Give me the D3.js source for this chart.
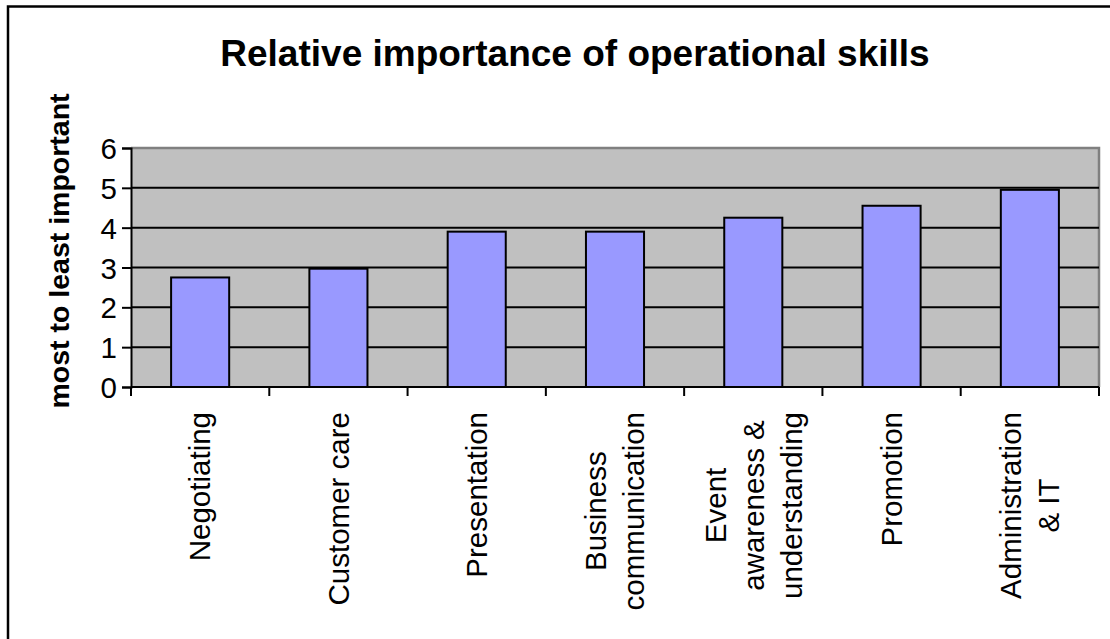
<!DOCTYPE html>
<html><head><meta charset="utf-8">
<script src="https://cdn.jsdelivr.net/npm/d3@7"></script>
<style>body{margin:0;background:#fff}svg{display:block}text{font-family:"Liberation Sans",Arial,sans-serif}</style>
</head><body><svg id="c" width="1110" height="639"></svg>
<script>
const categories = [["Negotiating"],["Customer care"],["Presentation"],["Business","communication"],["Event","awareness &","understanding"],["Promotion"],["Administration","& IT"]];
const values = [2.75, 2.97, 3.9, 3.9, 4.25, 4.55, 4.95];
const yTicks = [0,1,2,3,4,5,6];
const titleText = "Relative importance of operational skills";
const yLabel = "most to least important";

const svg = d3.select("#c");
const L = 131, R = 1099, T = 148, B = 387;
const keys = categories.map((c,i)=>i);
const x = d3.scaleBand().domain(keys).range([L,R]);
const y = d3.scaleLinear().domain([0,6]).range([B,T]);

// outer border
svg.append("rect").attr("x",8).attr("y",6.5).attr("width",1200).attr("height",700)
  .attr("fill","none").attr("stroke","#000").attr("stroke-width",2.5);

// plot area
svg.append("rect").attr("x",L).attr("y",T).attr("width",R-L).attr("height",B-T).attr("fill","#C0C0C0");
svg.append("path").attr("d",`M${L},${T}H${R}V${B}`).attr("fill","none").attr("stroke","#808080").attr("stroke-width",2.5);

// gridlines
svg.append("g").selectAll("line").data(yTicks.filter(d=>d>0&&d<6)).join("line")
  .attr("x1",L).attr("x2",R).attr("y1",d=>y(d)).attr("y2",d=>y(d)).attr("stroke","#000").attr("stroke-width",2);

// bars
const bw = x.bandwidth()*0.42;
svg.append("g").selectAll("rect").data(values).join("rect")
  .attr("x",(d,i)=>x(i)+x.bandwidth()/2-bw/2).attr("width",bw)
  .attr("y",d=>y(d)).attr("height",d=>B-y(d))
  .attr("fill","#9999FF").attr("stroke","#000").attr("stroke-width",2);

// y axis
const ya = svg.append("g").attr("transform",`translate(${L},0)`)
  .call(d3.axisLeft(y).tickValues(yTicks).tickFormat(d3.format("d")).tickSize(9).tickPadding(5));
ya.select(".domain").attr("stroke","#000").attr("stroke-width",2);
ya.selectAll(".tick line").attr("stroke","#000").attr("stroke-width",2);
ya.selectAll(".tick text").attr("font-size",29.5).attr("fill","#000").attr("font-family","Liberation Sans, Arial, sans-serif").attr("dy","0.36em");

// x axis
const tickPos = d3.range(categories.length+1).map(i=>L+i*x.step());
svg.append("line").attr("x1",L).attr("x2",R).attr("y1",B).attr("y2",B).attr("stroke","#000").attr("stroke-width",2);
svg.append("g").selectAll("line").data(tickPos).join("line")
  .attr("x1",d=>d).attr("x2",d=>d).attr("y1",B).attr("y2",B+9).attr("stroke","#000").attr("stroke-width",2);

// x labels
const lh = 38;
categories.forEach((lines,i)=>{
  const cx = x(i)+x.bandwidth()/2;
  const g = svg.append("g").attr("transform",`translate(${cx},412) rotate(-90)`);
  const texts = lines.map((s,j)=>g.append("text").text(s).attr("font-size",29.5).attr("fill","#000")
     .attr("text-anchor","middle").attr("y",(j-(lines.length-1)/2)*lh).attr("dy","0.35em"));
  const maxW = d3.max(texts,t=>t.node().getComputedTextLength());
  texts.forEach(t=>t.attr("x",-maxW/2));
});

// title
svg.append("text").attr("x",575).attr("y",66).attr("text-anchor","middle")
  .attr("font-size",37).attr("font-weight","bold").text(titleText);

// y label
svg.append("text").attr("transform","translate(69,251) rotate(-90)").attr("text-anchor","middle")
  .attr("font-size",28.5).attr("font-weight","bold").text(yLabel);
</script></body></html>
